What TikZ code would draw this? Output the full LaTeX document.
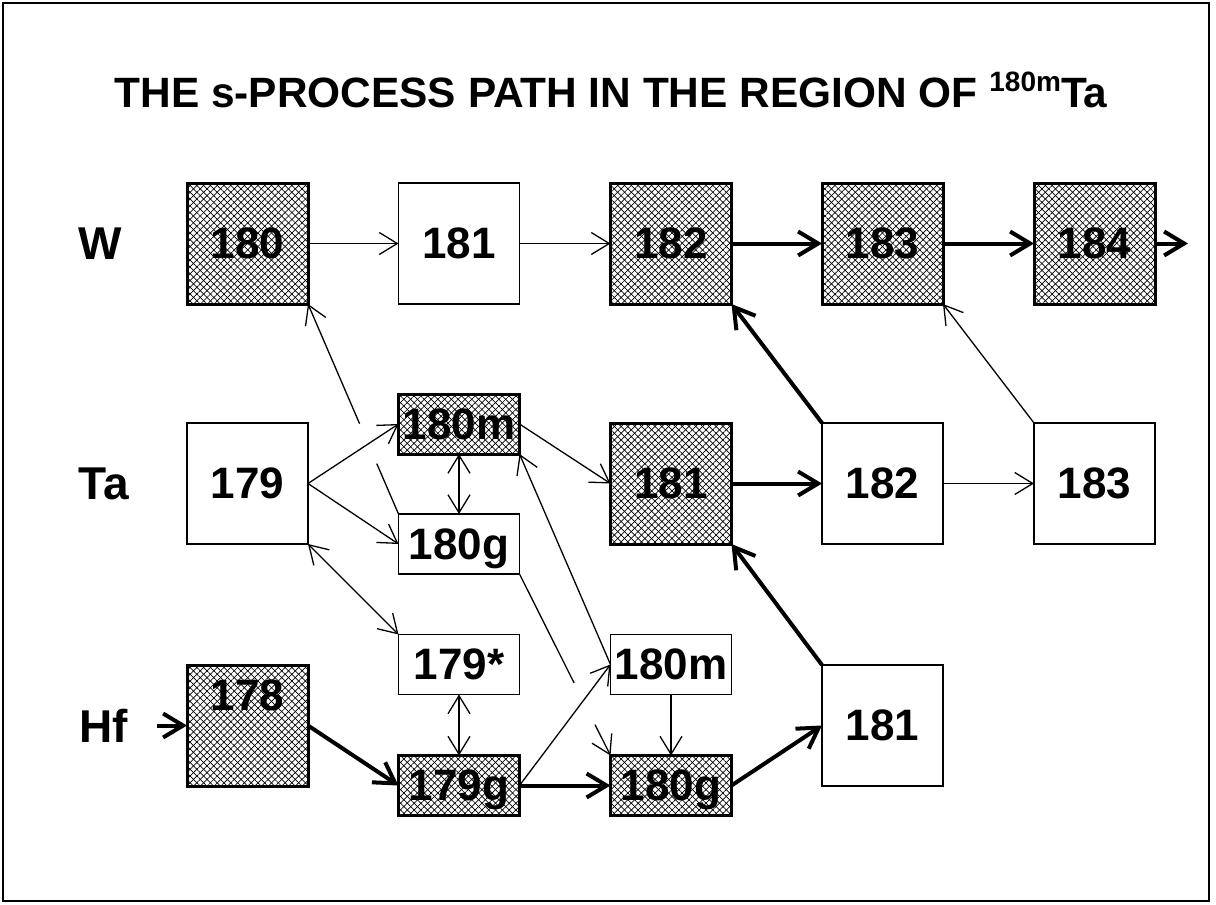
\documentclass[tikz,border=0pt]{standalone}
\usepackage{fontspec}
\setmainfont{Liberation Sans}
\usetikzlibrary{arrows.meta,patterns.meta,calc}

\begin{document}
\begin{tikzpicture}[x=0.5pt, y=-0.5pt, line join=miter,
    big/.style={draw, line width=0.85pt, minimum width=60.5pt, minimum height=60.5pt,
        inner sep=0pt, outer sep=0pt, text depth=0pt, font=\fontsize{22}{22}\selectfont\bfseries},
    small/.style={big, minimum height=30pt},
    hatched/.style={line width=1.5pt, pattern={Lines[angle=45, distance=2.4pt, line width=0.35pt]},
        postaction={pattern={Lines[angle=-45, distance=2.4pt, line width=0.35pt]}}},
    sidepath/.style={line width=0.65pt, -{Straight Barb[length=9pt, width=11pt]}},
    bothpath/.style={line width=0.65pt,
        {Straight Barb[length=9pt, width=11pt]}-{Straight Barb[length=9pt, width=11pt]}},
    mainpath/.style={line width=2pt, -{Straight Barb[length=10pt, width=12pt]}},
    rowname/.style={anchor=west, inner sep=0pt, text depth=0pt, font=\fontsize{23}{23}\selectfont\bfseries}]

    % 枠と大きさ
    \useasboundingbox (0,0) rectangle (1216,905);
    \draw[line width=0.75pt] (3,3) rectangle (1209,901);

    % 表題
    \node[anchor=base, font=\fontsize{21.2}{21.2}\selectfont\bfseries] (title) at (611,107)
        {THE s-PROCESS PATH IN THE REGION OF \raisebox{8pt}{\fontsize{14}{14}\selectfont 180m}Ta};

    % 元素名
    \node[rowname] (W) at (78,243.5) {W};
    \node[rowname] (Ta) at (78,483.5) {Ta};
    \node[rowname] (Hf) at (79,725.5) {Hf};

    % W の核
    \node[big, hatched] (W180) at (247.5,243.5) {180};
    \node[big] (W181) at (459,243.5) {181};
    \node[big, hatched] (W182) at (671,243.5) {182};
    \node[big, hatched] (W183) at (882.5,243.5) {183};
    \node[big, hatched] (W184) at (1094.5,243.5) {184};
    \coordinate (Wout) at (1188,243.5);

    % Ta の核
    \node[big] (Ta179) at (247.5,483.5) {179};
    \node[small, hatched] (Ta180m) at (459,424) {180m};
    \node[small] (Ta180g) at (459,544) {180g};
    \node[big, hatched] (Ta181) at (671,483.5) {181};
    \node[big] (Ta182) at (882.5,483.5) {182};
    \node[big] (Ta183) at (1094.5,483.5) {183};

    % Hf の核
    \coordinate (Hfin) at (157,725.5);
    \node[big, hatched, text depth=30pt] (Hf178) at (247.5,725.5) {178};
    \node[small] (Hf179s) at (459,664.5) {179*};
    \node[small, hatched] (Hf179g) at (459,785.5) {179g};
    \node[small] (Hf180m) at (671,664.5) {180m};
    \node[small, hatched] (Hf180g) at (671,785.5) {180g};
    \node[big] (Hf181) at (882.5,725.5) {181};

    % 主な流れ（太線）
    \draw[mainpath] (Hfin) -- (Hf178.west);
    \draw[mainpath] (Hf178.east) -- (Hf179g.west);
    \draw[mainpath] (Hf179g) -- (Hf180g);
    \draw[mainpath] (Hf180g.east) -- (Hf181.west);
    \draw[mainpath] (Hf181.north west) -- (Ta181.south east);
    \draw[mainpath] (Ta181) -- (Ta182);
    \draw[mainpath] (Ta182.north west) -- (W182.south east);
    \draw[mainpath] (W182) -- (W183);
    \draw[mainpath] (W183) -- (W184);
    \draw[mainpath] (W184) -- (Wout);

    % 枝分かれ（細線）
    \draw[sidepath] (W180) -- (W181);
    \draw[sidepath] (W181) -- (W182);
    \draw[sidepath] (Ta182) -- (Ta183);
    \draw[sidepath] (Ta183.north west) -- (W183.south east);
    \draw[sidepath] (Ta179.east) -- (Ta180m.west);
    \draw[sidepath] (Ta179.east) -- (Ta180g.west);
    \draw[sidepath] (Ta180m.east) -- (Ta181.west);
    \draw[sidepath] (Hf179g.east) -- (Hf180m.west);
    \draw[sidepath] (Hf180m) -- (Hf180g);
    \draw[sidepath] (Hf180m.west) -- (Ta180m.south east);
    \draw[bothpath] (Ta180m) -- (Ta180g);
    \draw[bothpath] (Ta179.south east) -- (Hf179s.north west);
    \draw[bothpath] (Hf179s) -- (Hf179g);

    % 交差で切れる線
    \draw[line width=0.65pt] (Ta180g.north west) -- ($(Ta180g.north west)!0.24!(W180.south east)$);
    \draw[sidepath] ($(Ta180g.north west)!0.43!(W180.south east)$) -- (W180.south east);
    \draw[line width=0.65pt] (Ta180g.south east) -- ($(Ta180g.south east)!0.6!(Hf180g.north west)$);
    \draw[sidepath] ($(Ta180g.south east)!0.83!(Hf180g.north west)$) -- (Hf180g.north west);

\end{tikzpicture}
\end{document}
